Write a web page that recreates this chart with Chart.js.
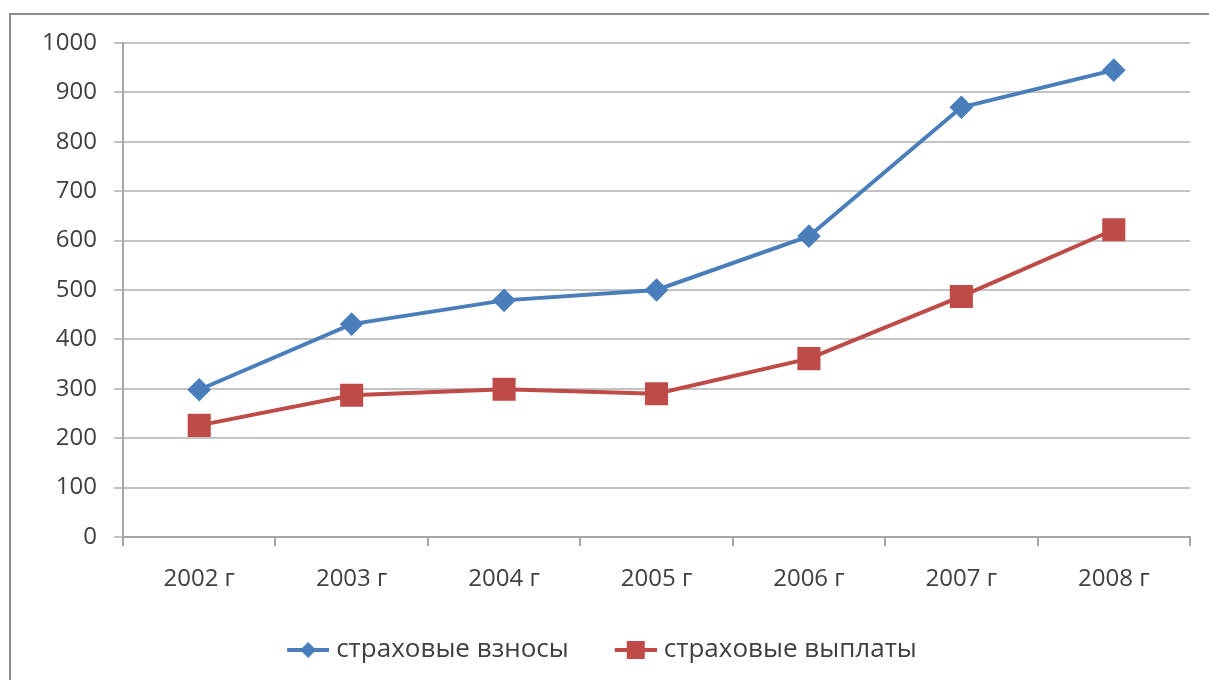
<!DOCTYPE html>
<html>
<head>
<meta charset="utf-8">
<script src="https://cdn.jsdelivr.net/npm/chart.js@4.4.1/dist/chart.umd.min.js"></script>
<style>
  html, body { margin: 0; padding: 0; background: #ffffff; }
  #wrap { position: relative; width: 1209px; height: 680px; }
  canvas { display: block; }
</style>
</head>
<body>
<div id="wrap"><canvas id="chart" width="1209" height="680"></canvas></div>
<script>
// Years on the horizontal axis
const years = ['2002 г', '2003 г', '2004 г', '2005 г', '2006 г', '2007 г', '2008 г'];
// Insurance premiums collected
const premiums = [298, 431, 479, 500, 609, 870, 945];
// Insurance payouts
const payouts = [226, 287, 299, 290, 361, 487, 622];
// Series names
const seriesNames = ['страховые взносы', 'страховые выплаты'];

const BLUE = '#4a7ebb';
const RED = '#be4b48';
const FONT = '"Open Sans", "Liberation Sans", sans-serif';

// Legend swatch: a short line with the series marker in the middle.
// The canvas is wider than the legend box so the line sits right next to the text.
function legendSwatch(color, shape) {
  const c = document.createElement('canvas');
  c.width = 62; c.height = 22;
  const g = c.getContext('2d');
  g.strokeStyle = color;
  g.lineWidth = 4;
  g.beginPath();
  g.moveTo(20, 11); g.lineTo(62, 11);
  g.stroke();
  g.fillStyle = color;
  const cx = 41;
  if (shape === 'diamond') {
    g.beginPath();
    g.moveTo(cx, 3); g.lineTo(cx + 8, 11); g.lineTo(cx, 19); g.lineTo(cx - 8, 11);
    g.closePath(); g.fill();
  } else {
    g.fillRect(cx - 9, 2, 18, 18);
  }
  return c;
}

// Thin frame along the top and left of the chart
const frame = {
  id: 'frame',
  beforeDraw(chart) {
    const ctx = chart.ctx;
    ctx.save();
    ctx.strokeStyle = '#8c8c8c';
    ctx.lineWidth = 2;
    ctx.beginPath();
    ctx.moveTo(10, 680); ctx.lineTo(10, 14); ctx.lineTo(1209, 14);
    ctx.stroke();
    ctx.restore();
  }
};

new Chart(document.getElementById('chart'), {
  type: 'line',
  data: {
    labels: years,
    datasets: [
      {
        label: seriesNames[0],
        data: premiums,
        borderColor: BLUE,
        backgroundColor: BLUE,
        borderWidth: 4,
        pointStyle: 'rectRot',
        pointRadius: 9,
        pointHoverRadius: 9,
        tension: 0
      },
      {
        label: seriesNames[1],
        data: payouts,
        borderColor: RED,
        backgroundColor: RED,
        borderWidth: 4,
        pointStyle: 'rect',
        pointRadius: 13.5,
        pointHoverRadius: 13.5,
        tension: 0
      }
    ]
  },
  options: {
    responsive: false,
    animation: false,
    layout: { padding: { left: 0, right: 19, top: 43, bottom: 7 } },
    plugins: {
      tooltip: { enabled: false },
      legend: {
        position: 'bottom',
        labels: {
          usePointStyle: true,
          pointStyleWidth: 50,
          color: '#404040',
          font: { family: FONT, size: 26 },
          padding: 32,
          generateLabels(chart) {
            return chart.data.datasets.map((ds, i) => ({
              text: ds.label,
              fillStyle: ds.borderColor,
              strokeStyle: ds.borderColor,
              lineWidth: 0,
              pointStyle: legendSwatch(ds.borderColor, i === 0 ? 'diamond' : 'square'),
              datasetIndex: i,
              hidden: false,
              fontColor: '#404040'
            }));
          }
        }
      }
    },
    scales: {
      x: {
        offset: true,
        border: { display: true, color: '#a6a6a6', width: 2 },
        grid: { display: true, drawOnChartArea: false, drawTicks: true, tickLength: 9, color: '#a6a6a6', lineWidth: 2, offset: true },
        ticks: { color: '#404040', font: { family: FONT, size: 24 }, padding: 19, maxRotation: 0 },
        afterFit(scale) { scale.height = 68; }
      },
      y: {
        min: 0,
        max: 1000,
        border: { display: true, color: '#a6a6a6', width: 2 },
        grid: { color: '#c3c3c3', lineWidth: 2, tickLength: 9, drawTicks: true },
        ticks: {
          stepSize: 100,
          color: '#404040',
          font: { family: FONT, size: 24 },
          padding: 17,
          callback: (v) => String(v)
        },
        afterFit(scale) { scale.width = 123; }
      }
    }
  },
  plugins: [frame]
});
</script>
</body>
</html>
